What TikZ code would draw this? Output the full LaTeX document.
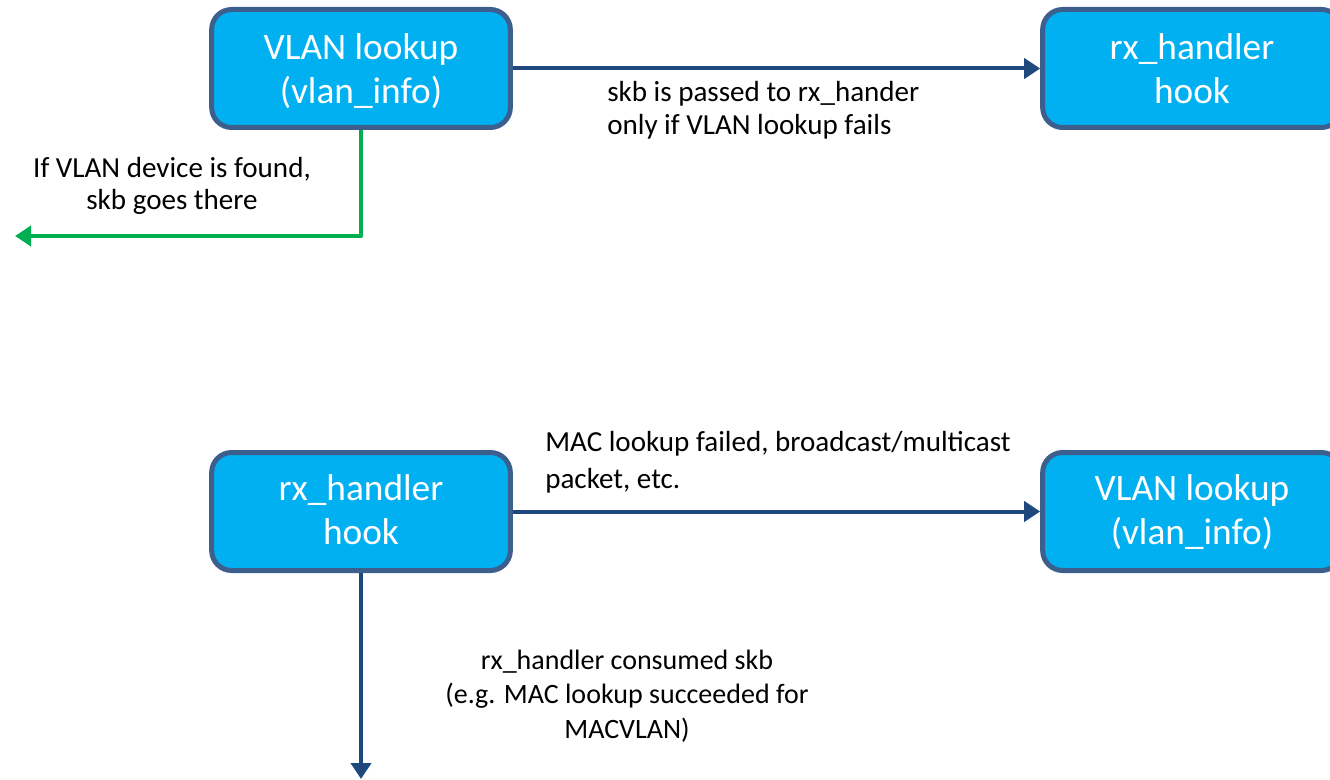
\documentclass[tikz,border=0pt]{standalone}
\usepackage{fontspec}
\setmainfont{Carlito}
\usetikzlibrary{arrows.meta}
\definecolor{boxfill}{HTML}{00B0F0}
\definecolor{boxedge}{HTML}{3D5F8E}
\definecolor{flowblue}{HTML}{1F497D}
\definecolor{flowgreen}{HTML}{00B050}
% two centred lines; the strut height in #1 pushes the pair down inside the box
\newcommand{\twolines}[3]{\begin{tabular}{@{}c@{}}\rule{0pt}{#1}#2\\#3\end{tabular}}
\tikzset{
  stage/.style={draw=boxedge, line width=3.75pt, fill=boxfill, rounded corners=15pt,
    minimum width=224pt, minimum height=88.5pt, text=white, align=center,
    font=\fontsize{28}{33.5}\selectfont, inner sep=0pt},
  flow/.style={draw=flowblue, line width=3pt, -{Triangle[length=12pt,width=15pt]}},
  found/.style={draw=flowgreen, line width=3pt, line join=round, -{Triangle[length=12pt,width=15pt]}},
  note/.style={font=\fontsize{21.8}{24.5}\selectfont, inner sep=0pt, text=black}
}
\begin{document}
\begin{tikzpicture}[x=0.75pt, y=-0.75pt]
\useasboundingbox (0,0) rectangle (1330,780);
% upper path: VLAN lookup first, then rx_handler
\node[stage] (vlanA) at (361,68.5) {\twolines{29.5pt}{VLAN lookup}{(vlan\_info)}};
\node[stage] (rxA) at (1192,68.5) {\twolines{29.5pt}{rx\_handler}{hook}};
\draw[flow] (vlanA.east) -- (rxA.west);
\node[note, anchor=west, align=left] (passA) at (607,110) {skb is passed to rx\_hander\\only if VLAN lookup fails};
\coordinate (devA) at (15,236);
\draw[found] (vlanA.south) |- (devA);
\node[note, align=center] (foundA) at (172,186) {If VLAN device is found,\\skb goes there};
% lower path: rx_handler first, then VLAN lookup
\node[stage] (rxB) at (361,511.5) {\twolines{26.5pt}{rx\_handler}{hook}};
\node[stage] (vlanB) at (1192,511.5) {\twolines{26.5pt}{VLAN lookup}{(vlan\_info)}};
\draw[flow] (rxB.east) -- (vlanB.west);
\node[note, anchor=west, align=left, font=\fontsize{21.8}{27.5}\selectfont] (failB) at (545,462) {MAC lookup failed, broadcast/multicast\\packet, etc.};
\coordinate (outB) at (361,779);
\draw[flow] (rxB.south) -- (outB);
\node[note, align=center, font=\fontsize{21}{26}\selectfont] (consB) at (627,696) {rx\_handler consumed skb\\(e.g. MAC lookup succeeded for\\MACVLAN)};
\end{tikzpicture}
\end{document}
